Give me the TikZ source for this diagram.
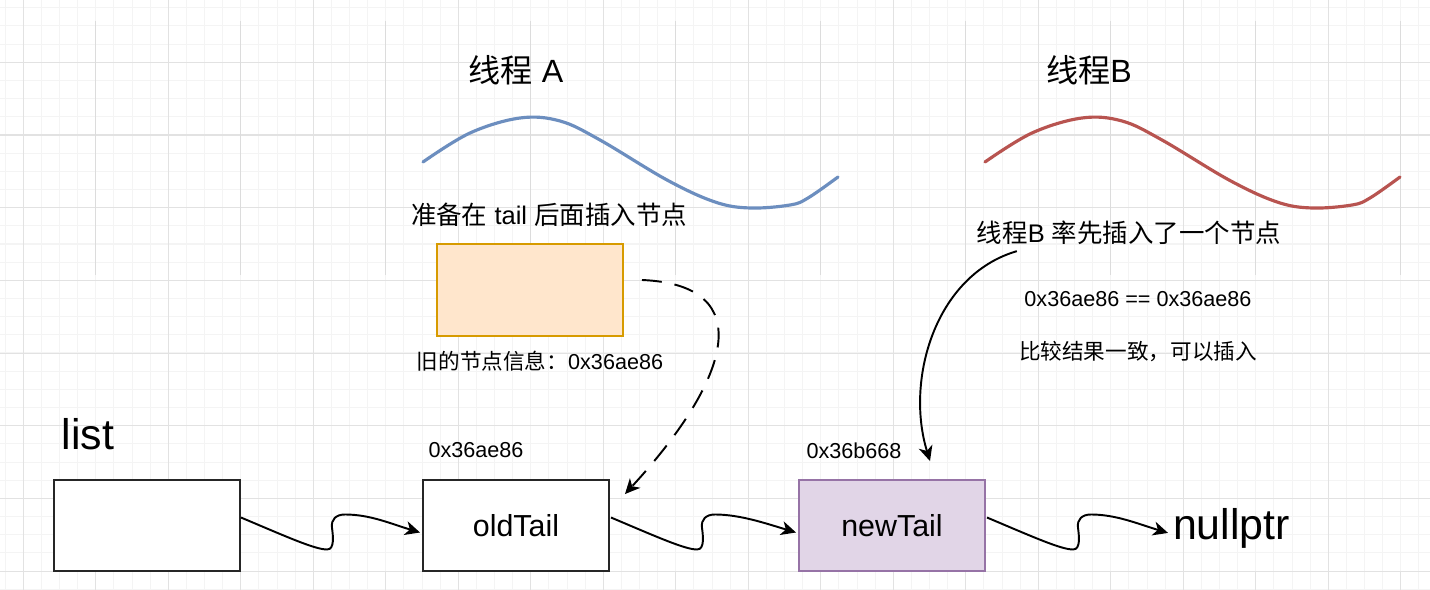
\documentclass[tikz,border=0pt]{standalone}
\usepackage{fontspec}
\setmainfont{Liberation Sans}
\newfontfamily\cjk{Noto Sans CJK SC}
\usetikzlibrary{calc,arrows.meta}
\newcommand\myT{\fontsize{18.3}{22}\selectfont}
\newcommand\myM{\fontsize{14.5}{17}\selectfont}
\newcommand\myS{\fontsize{12.3}{15}\selectfont}
\newcommand\myL{\fontsize{24.4}{28}\selectfont}
\newcommand\myB{\fontsize{17.3}{20}\selectfont}
\definecolor{gminor}{HTML}{F4F4F4}
\definecolor{gmajor}{HTML}{E2E2E2}
\definecolor{gpart}{HTML}{DCDCDC}
\definecolor{waveA}{HTML}{6C8EBF}
\definecolor{waveB}{HTML}{B85450}
\definecolor{orfill}{HTML}{FFE6CC}
\definecolor{ordraw}{HTML}{D79B00}
\definecolor{pufill}{HTML}{E1D5E7}
\definecolor{pudraw}{HTML}{9673A6}
\tikzset{
  txt/.style={inner sep=0pt, outer sep=0pt, text=black},
  boxnode/.style={draw=black!85, line width=1.1pt, minimum width=186*0.02cm, minimum height=91*0.02cm, inner sep=0pt, fill=white},
  conn/.style={line width=1.1pt, black, -{Stealth[length=8.5pt,width=8pt,inset=2.5pt]}},
  wave/.style={line width=1.8pt, line cap=round, line join=round},
}
\begin{document}
\begin{tikzpicture}[x=0.02cm,y=-0.02cm]
\useasboundingbox (0,0) rectangle (1430,590);
\fill[white] (0,0) rectangle (1430,590);
% grid
\foreach \i in {-1,...,78} \draw[gminor, line width=0.6pt] ({23.3+18.125*\i},0) -- ({23.3+18.125*\i},590);
\foreach \j in {-3,...,29} \draw[gminor, line width=0.6pt] (0,{62.3+18.17*\j}) -- (1430,{62.3+18.17*\j});
\foreach \i in {0,...,9} \draw[gmajor, line width=0.6pt] ({23.3+145*\i},0) -- ({23.3+145*\i},590);
\foreach \j in {0,...,7} \draw[gmajor, line width=0.6pt] (0,{62.3+72.7*\j}) -- (1430,{62.3+72.7*\j});
\foreach \i in {0,...,9} {
  \draw[gpart, line width=0.6pt] ({95.8+145*\i},21) -- ({95.8+145*\i},275);
  \draw[gmajor, line width=0.6pt] ({95.8+145*\i},571) -- ({95.8+145*\i},590);
}
% titles
\node[txt, font=\myT, anchor=base] (tA) at (516,83) {{\cjk 线程} A};
\node[txt, font=\myT, anchor=base] (tB) at (1089,83) {{\cjk 线程}B};
% waves
\draw[wave, waveA] plot[smooth, tension=0.6] coordinates {(423,162) (470,133) (520,118) (560,121) (600,140) (667,180) (715,202) (750,208) (790,205) (808,198) (838,177)};
\draw[wave, waveB] plot[smooth, tension=0.6] coordinates {(985,162) (1032,133) (1082,118) (1122,121) (1162,140) (1229,180) (1277,202) (1312,208) (1352,205) (1370,198) (1400,177)};
% thread A texts
\node[txt, font=\myM, anchor=base] (prep) at (549,225) {{\cjk 准备在} tail {\cjk 后面插入节点}};
\node[draw=ordraw, fill=orfill, line width=1.1pt, minimum width=186*0.02cm, minimum height=92*0.02cm, inner sep=0pt] (old) at (530,290) {};
\node[txt, font=\myS, anchor=base] (oldinfo) at (540,370) {{\cjk 旧的节点信息：}0x36ae86};
% thread B texts
\node[txt, font=\myM, anchor=base] (bfirst) at (1129,243) {{\cjk 线程}B {\cjk 率先插入了一个节点}};
\node[txt, font=\myS, anchor=base] (eq) at (1138,307) {0x36ae86 == 0x36ae86};
\node[txt, font=\myS, anchor=base] (cmp) at (1138,360) {\cjk 比较结果一致，可以插入};
% list
\node[txt, font=\myL, anchor=base] (listlbl) at (88,450) {list};
\node[boxnode] (listbox) at (147,525.5) {};
\node[txt, font=\myS, anchor=base] (addr1) at (476,458) {0x36ae86};
\node[boxnode, font=\myB] (oldTail) at (516,525.5) {oldTail};
\node[txt, font=\myS, anchor=base] (addr2) at (854,459) {0x36b668};
\node[boxnode, font=\myB, draw=pudraw, fill=pufill] (newTail) at (892,525.5) {newTail};
\node[txt, font=\myL, anchor=base west] (nullptr) at (1173,540) {nullptr};
% squiggly connectors
\draw[conn] ($(listbox.east)+(0,-8)$) .. controls +(45,19) and +(-12,0) .. ++(86,32)
  .. controls +(8,0) and +(1,8) .. ++(5,-22)
  .. controls +(-1,-8) and +(-9,0) .. ++(13,-13)
  .. controls +(25,0) and +(-30,-9) .. ($(oldTail.west)+(-2,7)$);
\draw[conn] ($(oldTail.east)+(1,-8)$) .. controls +(45,19) and +(-12,0) .. ++(86,32)
  .. controls +(8,0) and +(1,8) .. ++(5,-22)
  .. controls +(-1,-8) and +(-9,0) .. ++(13,-13)
  .. controls +(25,0) and +(-30,-9) .. ($(newTail.west)+(-2,7)$);
\draw[conn] ($(newTail.east)+(1,-8)$) .. controls +(45,19) and +(-12,0) .. ++(86,32)
  .. controls +(8,0) and +(1,8) .. ++(5,-22)
  .. controls +(-1,-8) and +(-9,0) .. ++(13,-13)
  .. controls +(25,0) and +(-30,-9) .. ($(nullptr.west)+(-5,4)$);
% dashed connector
\draw[conn, dash pattern=on 11.3pt off 7.4pt] ($(old.east)+(18,-10)$) .. controls (760,285) and (730,380) .. ($(oldTail.north east)+(15,15)$);
% thread B arrow
\draw[conn] ($(bfirst.south west)+(40,6)$) .. controls (935,275) and (905,380) .. ($(newTail.north)+(38,-18)$);
\end{tikzpicture}
\end{document}
